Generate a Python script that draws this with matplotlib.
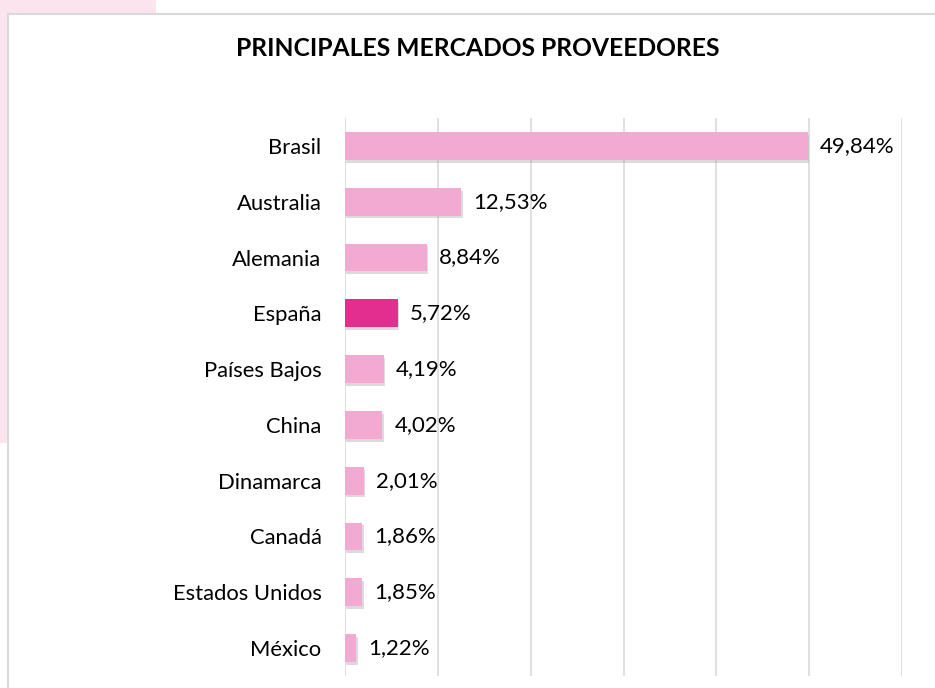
import matplotlib
matplotlib.use("Agg")
import matplotlib.pyplot as plt
import matplotlib.patches as mpatches
import matplotlib.patheffects as pe

categories = ["Brasil", "Australia", "Alemania", "España", "Países Bajos",
              "China", "Dinamarca", "Canadá", "Estados Unidos", "México"]
values = [49.84, 12.53, 8.84, 5.72, 4.19, 4.02, 2.01, 1.86, 1.85, 1.22]
highlight = "España"

plt.rcParams['font.family'] = ['Lato', 'DejaVu Sans']

W, H = 935, 688
fig = plt.figure(figsize=(W / 100, H / 100), dpi=100)
fig.patch.set_facecolor("white")

# pink background block and white panel
fig.add_artist(mpatches.Rectangle((0, 1 - 443 / H), 156 / W, 443 / H,
                                  transform=fig.transFigure, facecolor="#FBE4EE",
                                  edgecolor="none", zorder=-2))
fig.add_artist(mpatches.Rectangle((8 / W, -0.05), 1.0, 1 - 14 / H + 0.05,
                                  transform=fig.transFigure, facecolor="white",
                                  edgecolor="#D9D9D9", linewidth=1.5, zorder=-1))

ax = fig.add_axes([345 / W, 1 - 676 / H, (902 - 345) / W, (676 - 118) / H])
ax.set_facecolor("none")
ax.set_zorder(1)

y = list(range(len(categories)))
colors = ["#E32E90" if c == highlight else "#F2AAD3" for c in categories]
bars = ax.barh(y, values, height=0.5, color=colors, zorder=3)
for b in bars:
    b.set_path_effects([pe.SimplePatchShadow(offset=(1, -2), shadow_rgbFace="#9A9A9A", alpha=0.35),
                        pe.Normal()])

ax.set_xlim(0, 60)
ax.set_ylim(len(categories) - 0.5, -0.5)
ax.set_xticks(range(0, 61, 10))
ax.xaxis.grid(True, color="#DADADA", linewidth=1.2, zorder=0)
ax.set_axisbelow(True)
ax.tick_params(axis="x", length=0, labelbottom=False)
ax.tick_params(axis="y", length=0, pad=17, labelsize=15.8, labelcolor="#000000")
ax.set_yticks(y)
ax.set_yticklabels(categories)
for s in ax.spines.values():
    s.set_visible(False)

for yi, v in zip(y, values):
    ax.text(v + 1.3, yi, f"{v:.2f}%".replace(".", ","), va="center", ha="left",
            fontsize=16, color="#000000")

fig.text(478 / W, 1 - 48 / H, "PRINCIPALES MERCADOS PROVEEDORES", ha="center",
         va="center", fontsize=17.7, fontweight="bold", color="#000000")

fig.savefig("out.png", dpi=100)
